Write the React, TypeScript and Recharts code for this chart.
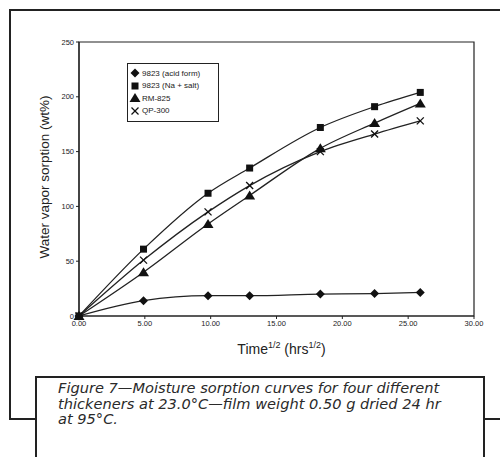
import { LineChart, Line, XAxis, YAxis, ReferenceArea, Label } from 'recharts';

// time^1/2 values (hrs^1/2)
const time = [0, 4.9, 9.8, 12.96, 18.33, 22.45, 25.92];

const acidForm = [0, 14, 18.5, 18.5, 20, 20.5, 21.5];
const naSalt = [0, 61, 112, 135, 172, 191, 204];
const rm825 = [0, 40, 84, 110, 153, 176, 194];
const qp300 = [0, 51, 95, 119, 150, 166, 178];

const xTicks = [0, 5, 10, 15, 20, 25, 30];
const yTicks = [0, 50, 100, 150, 200, 250];

const seriesNames = ['9823 (acid form)', '9823 (Na + salt)', 'RM-825', 'QP-300'];
const markers = ['diamond', 'square', 'triangle', 'cross'];

const data = time.map((t, i) => ({
  t,
  acid: acidForm[i],
  na: naSalt[i],
  rm: rm825[i],
  qp: qp300[i],
}));

const Marker = ({ kind, cx, cy }: { kind: string; cx: number; cy: number }) => {
  if (kind === 'diamond') {
    return <polygon points={`${cx},${cy - 4.5} ${cx + 4.5},${cy} ${cx},${cy + 4.5} ${cx - 4.5},${cy}`} fill="#111" />;
  }
  if (kind === 'square') {
    return <rect x={cx - 3.5} y={cy - 3.5} width={7} height={7} fill="#111" />;
  }
  if (kind === 'triangle') {
    return <polygon points={`${cx},${cy - 5} ${cx + 5.5},${cy + 4} ${cx - 5.5},${cy + 4}`} fill="#111" />;
  }
  return (
    <g stroke="#111" strokeWidth={1.3}>
      <line x1={cx - 3.5} y1={cy - 3.5} x2={cx + 3.5} y2={cy + 3.5} />
      <line x1={cx - 3.5} y1={cy + 3.5} x2={cx + 3.5} y2={cy - 3.5} />
    </g>
  );
};

const makeDot = (kind: string) => (props: any) => {
  const { cx, cy, index } = props;
  if (cx == null || cy == null) return <g key={index} />;
  return <Marker key={index} kind={kind} cx={cx} cy={cy} />;
};

const LegendBox = () => (
  <div
    style={{
      position: 'absolute',
      left: 127,
      top: 63,
      width: 92,
      height: 59,
      border: '1px solid #222',
      background: '#fff',
      boxSizing: 'border-box',
      paddingTop: 3,
      fontFamily: 'Liberation Sans, Arial, sans-serif',
      fontSize: 8,
      color: '#222',
    }}
  >
    {seriesNames.map((name, i) => (
      <div key={name} style={{ display: 'flex', alignItems: 'center', height: 12.5 }}>
        <svg width={13} height={12} style={{ marginLeft: 1 }}>
          <Marker kind={markers[i]} cx={6} cy={6} />
        </svg>
        <span>{name}</span>
      </div>
    ))}
  </div>
);

const XLabel = (props: any) => {
  const { viewBox } = props;
  const cx = viewBox.x + viewBox.width / 2 + 5;
  return (
    <text x={cx} y={354} textAnchor="middle" fontFamily="Liberation Sans, Arial, sans-serif" fontSize={14} fill="#222">
      Time
      <tspan fontSize={9} dy={-6}>1/2</tspan>
      <tspan dy={6}> (hrs</tspan>
      <tspan fontSize={9} dy={-6}>1/2</tspan>
      <tspan dy={6}>)</tspan>
    </text>
  );
};

export default function App() {
  return (
    <div style={{ position: 'absolute', left: 0, top: 0, width: 500, height: 457, overflow: 'hidden', background: '#fff' }}>
      {/* outer frame */}
      <div
        style={{
          position: 'absolute',
          left: 9,
          top: 9,
          width: 600,
          height: 411,
          border: '2px solid #222',
          boxSizing: 'border-box',
        }}
      />
      <LineChart
        width={500}
        height={457}
        data={data}
        margin={{ top: 42, right: 26, left: 0, bottom: 121 }}
        style={{ position: 'absolute', left: 0, top: 0 }}
      >
        <ReferenceArea x1={0} x2={30} y1={0} y2={250} fill="none" stroke="#222" strokeWidth={1.2} ifOverflow="visible" />
        <XAxis
          dataKey="t"
          type="number"
          domain={[0, 30]}
          ticks={xTicks}
          tickFormatter={(v: number) => v.toFixed(2)}
          tick={{ fontSize: 7.5, fill: '#222', fontFamily: 'Liberation Sans, Arial, sans-serif' }}
          tickSize={3}
          axisLine={{ stroke: '#222', strokeWidth: 1.2 }}
          tickLine={{ stroke: '#222' }}
          height={20}
          label={<XLabel />}
        />
        <YAxis
          type="number"
          domain={[0, 250]}
          ticks={yTicks}
          tick={{ fontSize: 7.5, fill: '#222', fontFamily: 'Liberation Sans, Arial, sans-serif' }}
          tickSize={3}
          axisLine={{ stroke: '#222', strokeWidth: 1.2 }}
          tickLine={{ stroke: '#222' }}
          width={79}
        >
          <Label
            value="Water vapor sorption (wt%)"
            content={() => (
              <text
                x={49}
                y={177}
                transform="rotate(-90 49 177)"
                textAnchor="middle"
                fontSize={13.5}
                fill="#222"
                fontFamily="Liberation Sans, Arial, sans-serif"
              >
                Water vapor sorption (wt%)
              </text>
            )}
          />
        </YAxis>
        <Line dataKey="acid" name={seriesNames[0]} type="monotone" stroke="#222" strokeWidth={1.3} dot={makeDot('diamond')} isAnimationActive={false} />
        <Line dataKey="na" name={seriesNames[1]} type="monotone" stroke="#222" strokeWidth={1.3} dot={makeDot('square')} isAnimationActive={false} />
        <Line dataKey="rm" name={seriesNames[2]} type="monotone" stroke="#222" strokeWidth={1.3} dot={makeDot('triangle')} isAnimationActive={false} />
        <Line dataKey="qp" name={seriesNames[3]} type="monotone" stroke="#222" strokeWidth={1.3} dot={makeDot('cross')} isAnimationActive={false} />
      </LineChart>
      <LegendBox />
      {/* caption box */}
      <div
        style={{
          position: 'absolute',
          left: 35,
          top: 376,
          width: 450,
          height: 120,
          border: '2px solid #222',
          boxSizing: 'border-box',
          background: '#fff',
          padding: '2px 0 0 21px',
          fontFamily: 'DejaVu Sans, sans-serif',
          fontStyle: 'italic',
          fontSize: 14.6,
          lineHeight: '15.5px',
          color: '#2a2a2a',
          whiteSpace: 'nowrap',
        }}
      >
        Figure 7—Moisture sorption curves for four different
        <br />
        thickeners at 23.0°C—film weight 0.50 g dried 24 hr
        <br />
        at 95°C.
      </div>
    </div>
  );
}
